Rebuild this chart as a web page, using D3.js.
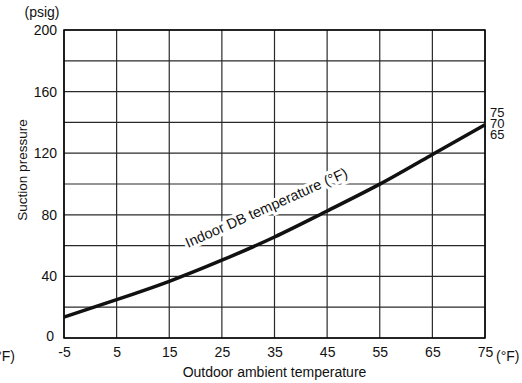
<!DOCTYPE html>
<html>
<head>
<meta charset="utf-8">
<script src="https://cdn.jsdelivr.net/npm/d3@7"></script>
<style>
  body { margin: 0; background: #fff; }
  svg { display: block; font-family: "Liberation Sans", Arial, sans-serif; }
</style>
</head>
<body>
<div class="chartHold"></div>
<script>
/* données */
let outdoorTemp = [-5, 5, 15, 25, 35, 45, 55, 65, 75];
let suctionPsig = [13.6, 24.9, 36.8, 50.5, 65.6, 82.5, 99.9, 119.2, 138.5];
let yTickValues = [0, 40, 80, 120, 160, 200];
let yGridValues = [0, 20, 40, 60, 80, 100, 120, 140, 160, 180, 200];
let indoorTemps = ['75', '70', '65'];

let width = 522,
    height = 383,
    fontFam = '"Liberation Sans", Arial, sans-serif';

let svg = d3.select('.chartHold').
append('svg').
attr('width', width).
attr('height', height);

/* échelles */
let xScale = d3.scaleLinear().domain([-5, 75]).range([64, 485]);
let yScale = d3.scaleLinear().domain([0, 200]).range([338, 30]);

/* grille */
svg.append('g').selectAll('line').
data(outdoorTemp).
enter().
append('line').
attr('x1', d => xScale(d)).
attr('x2', d => xScale(d)).
attr('y1', yScale(0)).
attr('y2', yScale(200)).
attr('stroke', '#2a2a2a').
attr('stroke-width', 1.2);

svg.append('g').selectAll('line').
data(yGridValues).
enter().
append('line').
attr('x1', xScale(-5)).
attr('x2', xScale(75)).
attr('y1', d => yScale(d)).
attr('y2', d => yScale(d)).
attr('stroke', '#2a2a2a').
attr('stroke-width', 1.2);

/* cadre */
svg.append('rect').
attr('x', xScale(-5)).
attr('y', yScale(200)).
attr('width', xScale(75) - xScale(-5)).
attr('height', yScale(0) - yScale(200)).
attr('fill', 'none').
attr('stroke', '#000').
attr('stroke-width', 1.5);

/* axe X */
let xAxis = d3.axisBottom(xScale).
tickValues(outdoorTemp).
tickFormat(d => String(d)).
tickSize(0).
tickPadding(9);
let xAxisGroup = svg.append('g').
attr('transform', 'translate(0,' + yScale(0) + ')').
call(xAxis);
xAxisGroup.select('.domain').remove();
xAxisGroup.selectAll('text').
attr('font-size', 14).
attr('fill', '#111').
style('font-family', fontFam);

/* axe Y */
let yAxis = d3.axisLeft(yScale).
tickValues(yTickValues).
tickFormat(d => String(d)).
tickSize(0).
tickPadding(7);
let yAxisGroup = svg.append('g').
attr('transform', 'translate(' + xScale(-5) + ',0)').
call(yAxis);
yAxisGroup.select('.domain').remove();
yAxisGroup.selectAll('text').
attr('font-size', 14).
attr('fill', '#111').
style('font-family', fontFam);
yAxisGroup.selectAll('.tick').filter(d => d === 0).select('text').
attr('dx', -3).
attr('dy', '0.15em');

/* titres */
svg.append('text').
attr('x', 42).
attr('y', 17).
attr('text-anchor', 'middle').
attr('font-size', 14).
attr('fill', '#111').
text('(psig)');

svg.append('text').
attr('transform', 'rotate(-90)').
attr('x', -170).
attr('y', 27).
attr('text-anchor', 'middle').
attr('font-size', 13.5).
attr('fill', '#111').
text('Suction pressure');

svg.append('text').
attr('x', (xScale(-5) + xScale(75)) / 2).
attr('y', 377).
attr('text-anchor', 'middle').
attr('font-size', 14).
attr('fill', '#111').
text('Outdoor ambient temperature');

svg.append('text').
attr('x', xScale(75) + 11).
attr('y', yScale(0) + 23).
attr('font-size', 14).
attr('fill', '#111').
text('(°F)');

/* reste coupé à gauche */
svg.append('text').
attr('x', 15).
attr('y', yScale(0) + 23).
attr('text-anchor', 'end').
attr('font-size', 14).
attr('fill', '#111').
text('(°F)');

/* courbe */
let line = d3.line().
x((d, i) => xScale(outdoorTemp[i])).
y(d => yScale(d)).
curve(d3.curveNatural);

svg.append('path').
datum(suctionPsig).
attr('d', line).
attr('fill', 'none').
attr('stroke', '#111').
attr('stroke-width', 3.5);

/* étiquette le long de la courbe */
svg.append('text').
attr('transform', 'translate(188,248) rotate(-24)').
attr('font-size', 14.5).
attr('fill', '#111').
attr('stroke', '#fff').
attr('stroke-width', 6).
attr('paint-order', 'stroke').
text('Indoor DB temperature (°F)');

/* températures intérieures */
svg.append('g').selectAll('text').
data(indoorTemps).
enter().
append('text').
attr('x', xScale(75) + 5).
attr('y', (d, i) => 117 + i * 11).
attr('font-size', 13).
attr('fill', '#111').
text(d => d);
</script>
</body>
</html>
